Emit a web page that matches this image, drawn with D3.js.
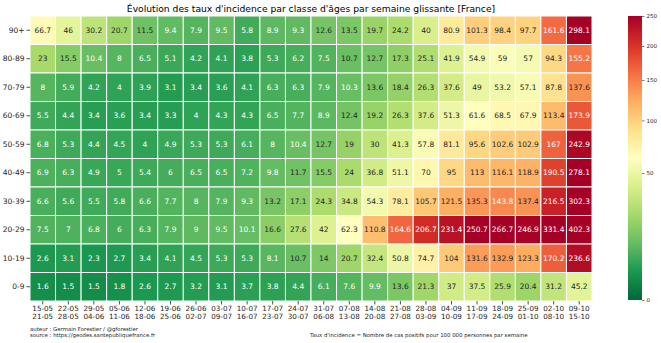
<!DOCTYPE html>
<html><head><meta charset="utf-8">
<script src="https://cdn.jsdelivr.net/npm/d3@7"></script>
<style>body{margin:0;background:#fff}svg{display:block}text{font-family:"DejaVu Sans",sans-serif}</style>
</head><body><svg id="c" width="661" height="343"></svg>
<script>
const ageGroups = ["90+","80-89","70-79","60-69","50-59","40-49","30-39","20-29","10-19","0-9"];
const weekStart = ["15-05","22-05","29-05","05-06","12-06","19-06","26-06","03-07","10-07","17-07","24-07","31-07","07-08","14-08","21-08","28-08","04-09","11-09","18-09","25-09","02-10","09-10"];
const weekEnd   = ["21-05","28-05","04-06","11-06","18-06","25-06","02-07","09-07","16-07","23-07","30-07","06-08","13-08","20-08","27-08","03-09","10-09","17-09","24-09","01-10","08-10","15-10"];
const r90  = [66.7,46,30.2,20.7,11.5,9.4,7.9,9.5,5.8,8.9,9.3,12.6,13.5,19.7,24.2,40,80.9,101.3,98.4,97.7,161.6,298.1];
const r80  = [23,15.5,10.4,8,6.5,5.1,4.2,4.1,3.8,5.3,6.2,7.5,10.7,12.7,17.3,25.1,41.9,54.9,59,57,94.3,155.2];
const r70  = [8,5.9,4.2,4,3.9,3.1,3.4,3.6,4.1,6.3,6.3,7.9,10.3,13.6,18.4,26.3,37.6,49,53.2,57.1,87.8,137.6];
const r60  = [5.5,4.4,3.4,3.6,3.4,3.3,4,4.3,4.3,6.5,7.7,8.9,12.4,19.2,26.3,37.6,51.3,61.6,68.5,67.9,113.4,173.9];
const r50  = [6.8,5.3,4.4,4.5,4,4.9,5.3,5.3,6.1,8,10.4,12.7,19,30,41.3,57.8,81.1,95.6,102.6,102.9,167,242.9];
const r40  = [6.9,6.3,4.9,5,5.4,6,6.5,6.5,7.2,9.8,11.7,15.5,24,36.8,51.1,70,95,113,116.1,118.9,190.5,278.1];
const r30  = [6.6,5.6,5.5,5.8,6.6,7.7,8,7.9,9.3,13.2,17.1,24.3,34.8,54.3,78.1,105.7,121.5,135.3,143.8,137.4,216.5,302.3];
const r20  = [7.5,7,6.8,6,6.3,7.9,9,9.5,10.1,16.6,27.6,42,62.3,110.8,164.6,206.7,231.4,250.7,266.7,246.9,331.4,402.3];
const r10  = [2.6,3.1,2.3,2.7,3.4,4.1,4.5,5.3,5.3,8.1,10.7,14,20.7,32.4,50.8,74.7,104,131.6,132.9,123.3,170.2,236.6];
const r0   = [1.6,1.5,1.5,1.8,2.6,2.7,3.2,3.1,3.7,3.8,4.4,6.1,7.6,9.9,13.6,21.3,37,37.5,25.9,20.4,31.2,45.2];
const rows = [r90,r80,r70,r60,r50,r40,r30,r20,r10,r0];
const cbTicks = [0,50,100,150,200,250];

const svg = d3.select("#c");
const L=30, R=592, T=16, B=301;
const x = d3.scaleBand().domain(d3.range(weekStart.length)).range([L,R]);
const y = d3.scaleBand().domain(ageGroups).range([T,B]);
const vmax = 250;
const norm = d3.scalePow().exponent(0.5).domain([0,vmax]).range([0,1]).clamp(true);
const pal = d3.schemeRdYlGn[11].slice().reverse();
const cmap = d3.scaleLinear().domain(d3.range(11).map(i=>i/10)).range(pal).interpolate(d3.interpolateRgb);
const color = v => cmap(norm(v));
function lum(c){const o=d3.rgb(c);const f=v=>{v/=255;return v<=0.03928?v/12.92:Math.pow((v+0.055)/1.055,2.4);};return 0.2126*f(o.r)+0.7152*f(o.g)+0.0722*f(o.b);}

const cells=[];
rows.forEach((r,i)=>r.forEach((v,j)=>cells.push({g:ageGroups[i],j,v})));
const gC = svg.append("g");
gC.selectAll("rect").data(cells).join("rect")
  .attr("x",d=>x(d.j)).attr("y",d=>y(d.g)).attr("width",x.bandwidth()).attr("height",y.bandwidth())
  .attr("fill",d=>color(d.v)).attr("stroke","#fff").attr("stroke-width",1);
gC.selectAll("text").data(cells).join("text")
  .attr("x",d=>x(d.j)+x.bandwidth()/2).attr("y",d=>y(d.g)+y.bandwidth()/2)
  .attr("dy","0.35em").attr("text-anchor","middle").attr("font-size",7.5)
  .attr("fill",d=>lum(color(d.v))>0.408?"#262626":"#fff")
  .text(d=>String(d.v));

// y axis
const gy = svg.append("g");
ageGroups.forEach(g=>{
  const cy=y(g)+y.bandwidth()/2;
  gy.append("line").attr("x1",L-3.5).attr("x2",L).attr("y1",cy).attr("y2",cy).attr("stroke","#262626").attr("stroke-width",0.8);
  gy.append("text").attr("x",L-5.5).attr("y",cy).attr("dy","0.35em").attr("text-anchor","end").attr("font-size",7.5).attr("fill","#262626").text(g);
});
// x axis
const gx = svg.append("g");
weekStart.forEach((w,j)=>{
  const cx=x(j)+x.bandwidth()/2;
  gx.append("line").attr("x1",cx).attr("x2",cx).attr("y1",B).attr("y2",B+3.5).attr("stroke","#262626").attr("stroke-width",0.8);
  gx.append("text").attr("x",cx).attr("y",B+9.5).attr("text-anchor","middle").attr("font-size",7.2).attr("fill","#262626").text(w);
  gx.append("text").attr("x",cx).attr("y",B+17.5).attr("text-anchor","middle").attr("font-size",7.2).attr("fill","#262626").text(weekEnd[j]);
});

// title
svg.append("text").attr("x",(L+R)/2).attr("y",12).attr("text-anchor","middle").attr("font-size",9.2).attr("fill","#000")
  .text("Évolution des taux d'incidence par classe d'âges par semaine glissante [France]");

// colorbar
const cbL=628, cbW=14, cbT=16, cbB=300;
const defs = svg.append("defs");
const grad = defs.append("linearGradient").attr("id","cbg").attr("x1",0).attr("x2",0).attr("y1",1).attr("y2",0);
d3.range(0,1.0001,0.02).forEach(t=>grad.append("stop").attr("offset",t).attr("stop-color",cmap(t)));
svg.append("rect").attr("x",cbL).attr("y",cbT).attr("width",cbW).attr("height",cbB-cbT).attr("fill","url(#cbg)");
const cy = d3.scalePow().exponent(0.5).domain([0,vmax]).range([cbB,cbT]);
const gcb = svg.append("g").attr("transform",`translate(${cbL+cbW},0)`)
  .call(d3.axisRight(cy).tickValues(cbTicks).tickSize(2.5).tickPadding(2).tickFormat(d3.format("d")));
gcb.select(".domain").remove();
gcb.selectAll("line").attr("stroke","#262626").attr("stroke-width",0.6);
gcb.selectAll("text").attr("font-size",5.5).attr("fill","#262626").attr("font-family","DejaVu Sans");

// footer
svg.append("text").attr("x",30).attr("y",331).attr("font-size",5.4).attr("fill","#262626").text("auteur : Germain Forestier / @gforestier");
svg.append("text").attr("x",30).attr("y",337).attr("font-size",5.4).attr("fill","#262626").text("source : https://geodes.santepubliquefrance.fr");
svg.append("text").attr("x",310).attr("y",337).attr("font-size",5.4).attr("fill","#262626").text("Taux d'incidence = Nombre de cas positifs pour 100 000 personnes par semaine");
</script></body></html>
